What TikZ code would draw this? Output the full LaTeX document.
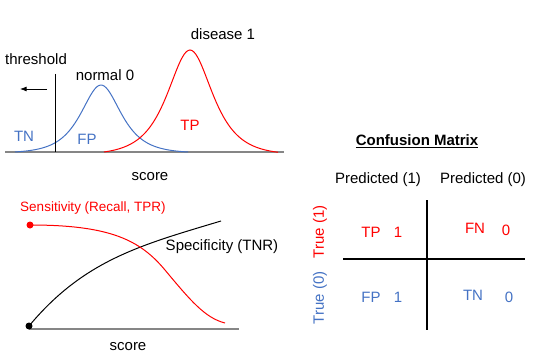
\documentclass[tikz,border=0pt]{standalone}
\usepackage{fontspec}
\setmainfont{Liberation Sans}
\usepackage{xcolor}
\usetikzlibrary{arrows.meta}
\definecolor{cmblue}{RGB}{68,114,196}
\definecolor{cmred}{RGB}{255,0,0}

\begin{document}
\begin{tikzpicture}[x=1pt, y=-1pt, >=Latex, font=\fontsize{15}{18}\selectfont,
  axis/.style={draw=gray!95, line width=1.8pt},
  bar/.style={draw=black, line width=1.8pt},
  dot/.style={circle, inner sep=0pt, minimum size=7pt}]
  \useasboundingbox (0,0) rectangle (543,358);

  % score distributions
  \coordinate (ax1l) at (5,152);
  \coordinate (ax1r) at (284,152);
  \draw[axis] (ax1l) -- (ax1r);
  \draw[cmblue, line width=1pt] plot[domain=15:188, samples=90, smooth]
    (\x, {152-67*(1/cosh((\x-101)/17.8)-0.015)/0.985});
  \draw[cmred, line width=1pt] plot[domain=104:278, samples=90, smooth]
    (\x, {152-102*(1/cosh((\x-190)/20)-0.027)/0.973});
  \coordinate (thtop) at (55,74);
  \coordinate (thbot) at (55,152);
  \draw[line width=1pt] (thtop) -- (thbot);
  \coordinate (arrfrom) at (47,89);
  \coordinate (arrto) at (20,89);
  \draw[->, line width=0.8pt] (arrfrom) -- (arrto);
  \node (thr) at (36,59) {threshold};
  \node (norm) at (105,75) {normal 0};
  \node (dis) at (223,34) {disease 1};
  \node[text=cmblue] (tn) at (24,136) {TN};
  \node[text=cmblue] (fp) at (87,139) {FP};
  \node[text=cmred] (tp) at (190,125) {TP};
  \node (score1) at (150,177) {score};

  % sensitivity / specificity
  \coordinate (ax2l) at (29,329);
  \coordinate (ax2r) at (239,329);
  \draw[axis] (ax2l) -- (ax2r);
  \node[dot, fill=black] (specdot) at (29,326) {};
  \coordinate (specend) at (221,221);
  \draw[line width=1pt] (specdot.center) .. controls (84,260) and (141,245) .. (specend);
  \node[dot, fill=cmred] (sensdot) at (30,225) {};
  \coordinate (sensmid) at (165,270);
  \coordinate (sensend) at (225,323);
  \draw[cmred, line width=1pt] (sensdot.center) .. controls (110,225) and (140,240) .. (sensmid)
    .. controls (190,300) and (205,318) .. (sensend);
  \node[text=cmred, font=\fontsize{13.5}{16}\selectfont] (sens) at (93,208) {Sensitivity (Recall, TPR)};
  \node (spec) at (222,247) {Specificity (TNR)};
  \node (score2) at (128,347) {score};

  % confusion matrix
  \node (cmtitle) at (417,141) {\underline{\textbf{Confusion Matrix}}};
  \node (pred1) at (378,180) {Predicted (1)};
  \node (pred0) at (483,180) {Predicted (0)};
  \coordinate (vtop) at (427,200);
  \coordinate (vbot) at (427,330);
  \coordinate (hl) at (343,259);
  \coordinate (hr) at (525,259);
  \draw[bar] (vtop) -- (vbot);
  \draw[bar] (hl) -- (hr);
  \node[text=cmred, rotate=90] (true1) at (320,232) {True (1)};
  \node[text=cmblue, rotate=90] (true0) at (320,298) {True (0)};
  \node[text=cmred] (cmtp) at (371,232) {TP};
  \node[text=cmred] (cmtpn) at (398,232) {1};
  \node[text=cmred] (cmfn) at (475,228) {FN};
  \node[text=cmred] (cmfnn) at (506,230) {0};
  \node[text=cmblue] (cmfp) at (371,297) {FP};
  \node[text=cmblue] (cmfpn) at (398,297) {1};
  \node[text=cmblue] (cmtn) at (473,295) {TN};
  \node[text=cmblue] (cmtnn) at (509,297) {0};
\end{tikzpicture}
\end{document}
